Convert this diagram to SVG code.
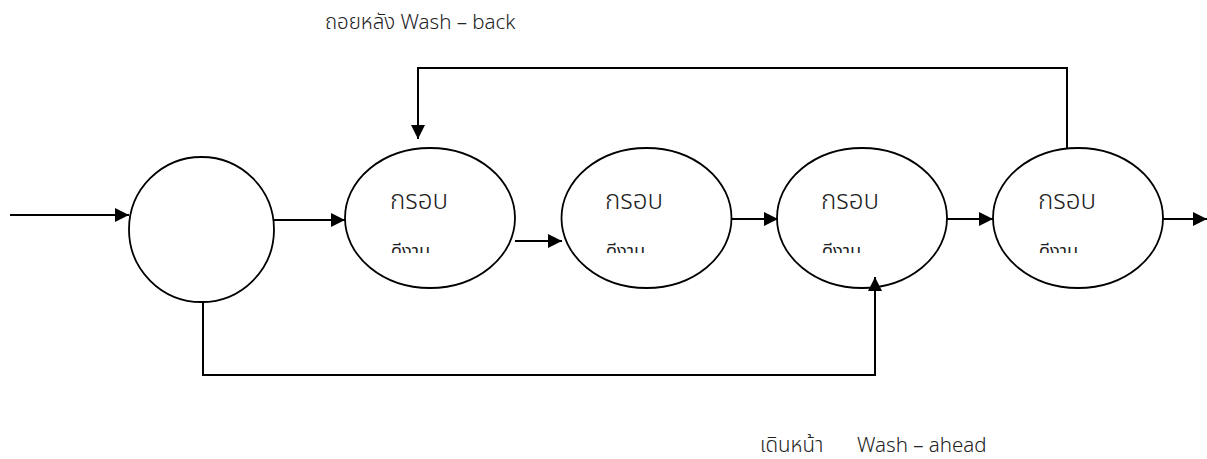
<svg xmlns="http://www.w3.org/2000/svg" width="1207" height="459" viewBox="0 0 1207 459">
<style>
.n{fill:#fff;stroke:#000;stroke-width:1.8}
.c{fill:none;stroke:#000;stroke-width:2}
.t{font-family:"Noto Sans Thai","Noto Sans","DejaVu Sans",sans-serif;fill:#222}
.big{font-size:26px;font-weight:300}
.sm{font-size:18px}
.lab{font-size:20.5px;font-weight:300}
</style>
<defs>
<marker id="a" viewBox="0 0 10 10" refX="10" refY="5" markerWidth="7.5" markerHeight="7" orient="auto" markerUnits="strokeWidth">
<path d="M0,0 L10,5 L0,10 z" fill="#000"/>
</marker>
<clipPath id="cl"><rect x="0" y="230" width="1207" height="23"/></clipPath>
</defs>
<rect width="1207" height="459" fill="#fff"/>
<g id="n0"><circle class="n" cx="201.5" cy="229.5" r="72.5"/></g>
<g id="n1"><ellipse class="n" cx="430" cy="218" rx="85" ry="70"/>
<text class="t big" x="390" y="209">กรอบ</text>
<text class="t sm" x="391" y="257" clip-path="url(#cl)">ดีงาม</text></g>
<g id="n2"><ellipse class="n" cx="646.5" cy="218" rx="85" ry="70"/>
<text class="t big" x="605" y="209">กรอบ</text>
<text class="t sm" x="606" y="257" clip-path="url(#cl)">ดีงาม</text></g>
<g id="n3"><ellipse class="n" cx="862" cy="218" rx="85" ry="70"/>
<text class="t big" x="821" y="209">กรอบ</text>
<text class="t sm" x="822" y="257" clip-path="url(#cl)">ดีงาม</text></g>
<g id="n4"><ellipse class="n" cx="1078" cy="218" rx="85" ry="70"/>
<text class="t big" x="1038" y="209">กรอบ</text>
<text class="t sm" x="1039" y="257" clip-path="url(#cl)">ดีงาม</text></g>
<g id="connectors">
<line class="c" x1="10" y1="215" x2="129" y2="215" marker-end="url(#a)"/>
<line class="c" x1="274" y1="220" x2="345" y2="220" marker-end="url(#a)"/>
<line class="c" x1="515" y1="241" x2="562" y2="241" marker-end="url(#a)"/>
<line class="c" x1="731" y1="219" x2="778" y2="219" marker-end="url(#a)"/>
<line class="c" x1="947" y1="219" x2="993" y2="219" marker-end="url(#a)"/>
<line class="c" x1="1163" y1="219" x2="1207" y2="219" marker-end="url(#a)"/>
<polyline class="c" points="1067,149 1067,68 418,68 418,139" marker-end="url(#a)"/>
<polyline class="c" points="203,302 203,375 875,375 875,277" marker-end="url(#a)"/>
</g>
<g id="labels">
<text class="t lab" x="325" y="29">ถอยหลัง Wash – back</text>
<text class="t lab" x="760" y="452">เดินหน้า<tspan x="857">Wash – ahead</tspan></text>
</g>
</svg>
